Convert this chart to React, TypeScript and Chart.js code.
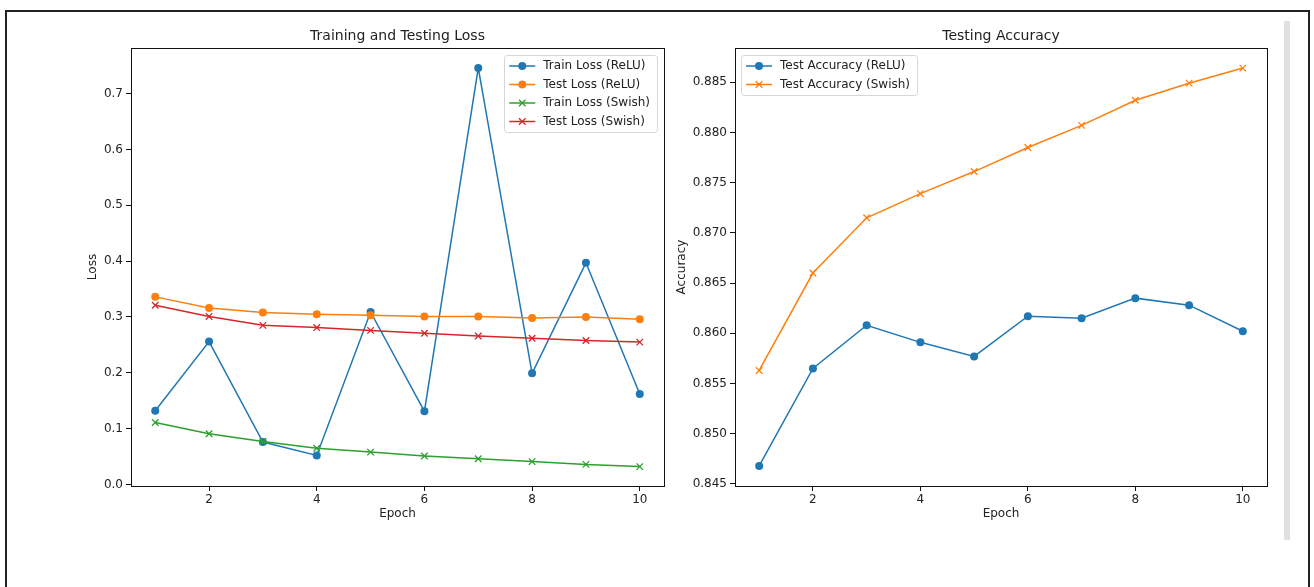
import React, { useEffect, useRef } from "react";
import { Chart, registerables } from "chart.js";

Chart.register(...registerables);

// ---------- data ----------
const epochs = [1, 2, 3, 4, 5, 6, 7, 8, 9, 10];
const trainLossRelu = [0.132, 0.256, 0.076, 0.052, 0.309, 0.131, 0.746, 0.199, 0.397, 0.162];
const testLossRelu = [0.336, 0.316, 0.308, 0.305, 0.303, 0.301, 0.301, 0.298, 0.300, 0.296];
const trainLossSwish = [0.111, 0.091, 0.077, 0.065, 0.058, 0.051, 0.046, 0.041, 0.036, 0.032];
const testLossSwish = [0.321, 0.301, 0.285, 0.281, 0.276, 0.271, 0.266, 0.262, 0.258, 0.255];
const testAccRelu = [0.8468, 0.8565, 0.8608, 0.8591, 0.8577, 0.8617, 0.8615, 0.8635, 0.8628, 0.8602];
const testAccSwish = [0.8563, 0.8660, 0.8715, 0.8739, 0.8761, 0.8785, 0.8807, 0.8832, 0.8849, 0.8864];
const xTicks = [2, 4, 6, 8, 10];
const lossTicks = [0.0, 0.1, 0.2, 0.3, 0.4, 0.5, 0.6, 0.7];
const accTicks = [0.845, 0.85, 0.855, 0.86, 0.865, 0.87, 0.875, 0.88, 0.885];

const lossLabels = ["Train Loss (ReLU)", "Test Loss (ReLU)", "Train Loss (Swish)", "Test Loss (Swish)"];
const accLabels = ["Test Accuracy (ReLU)", "Test Accuracy (Swish)"];

const BLUE = "#1f77b4";
const ORANGE = "#ff7f0e";
const GREEN = "#2ca02c";
const RED = "#d62728";
const TEXT = "#222";
const FAMILY = '"DejaVu Sans", sans-serif';

type Item = { label: string; color: string; marker: "o" | "x" };

function drawMarker(ctx: CanvasRenderingContext2D, kind: "o" | "x", x: number, y: number, color: string) {
  ctx.save();
  if (kind === "o") {
    ctx.fillStyle = color;
    ctx.beginPath();
    ctx.arc(x, y, 4, 0, Math.PI * 2);
    ctx.fill();
  } else {
    ctx.strokeStyle = color;
    ctx.lineWidth = 1.3;
    ctx.beginPath();
    ctx.moveTo(x - 3.3, y - 3.3);
    ctx.lineTo(x + 3.3, y + 3.3);
    ctx.moveTo(x - 3.3, y + 3.3);
    ctx.lineTo(x + 3.3, y - 3.3);
    ctx.stroke();
  }
  ctx.restore();
}

function makeDecor(opts: {
  title: string;
  xTitle: string;
  yTitle: string;
  yTitleOffset: number;
  legend: Item[];
  legendRight: boolean;
}) {
  return {
    id: "decor",
    afterDraw(chart: any) {
      const ctx: CanvasRenderingContext2D = chart.ctx;
      const a = chart.chartArea;
      ctx.save();
      // spines
      ctx.strokeStyle = "#111";
      ctx.lineWidth = 1;
      ctx.strokeRect(Math.round(a.left) + 0.5, Math.round(a.top) + 0.5, Math.round(a.right - a.left), Math.round(a.bottom - a.top));
      // title
      ctx.fillStyle = TEXT;
      ctx.font = `14px ${FAMILY}`;
      ctx.textAlign = "center";
      ctx.textBaseline = "middle";
      ctx.fillText(opts.title, (a.left + a.right) / 2, a.top - 12);
      // x title
      ctx.font = `12px ${FAMILY}`;
      ctx.fillText(opts.xTitle, (a.left + a.right) / 2, a.bottom + 28);
      // y title
      ctx.save();
      ctx.translate(a.left - opts.yTitleOffset, (a.top + a.bottom) / 2);
      ctx.rotate(-Math.PI / 2);
      ctx.fillText(opts.yTitle, 0, 0);
      ctx.restore();
      // legend
      ctx.font = `12px ${FAMILY}`;
      const tw = Math.max(...opts.legend.map((i) => ctx.measureText(i.label).width));
      const w = 39 + tw + 7;
      const h = 11 + (opts.legend.length - 1) * 18.5 + 10;
      const top = a.top + 7;
      const left = opts.legendRight ? a.right - 7 - w : a.left + 6;
      ctx.beginPath();
      (ctx as any).roundRect(Math.round(left) + 0.5, Math.round(top) + 0.5, Math.round(w), Math.round(h), 3);
      ctx.fillStyle = "rgba(255,255,255,0.85)";
      ctx.fill();
      ctx.strokeStyle = "#d6d6d6";
      ctx.lineWidth = 1;
      ctx.stroke();
      opts.legend.forEach((it, i) => {
        const y = top + 11 + i * 18.5;
        ctx.strokeStyle = it.color;
        ctx.lineWidth = 1.5;
        ctx.beginPath();
        ctx.moveTo(left + 5, y);
        ctx.lineTo(left + 31, y);
        ctx.stroke();
        drawMarker(ctx, it.marker, left + 18, y, it.color);
        ctx.fillStyle = TEXT;
        ctx.textAlign = "left";
        ctx.textBaseline = "middle";
        ctx.fillText(it.label, left + 39, y);
      });
      ctx.restore();
    },
  };
}

function pts(arr: number[]) {
  return epochs.map((e, i) => ({ x: e, y: arr[i] }));
}

function ds(label: string, arr: number[], color: string, marker: "o" | "x", order: number) {
  return {
    label,
    data: pts(arr),
    borderColor: color,
    backgroundColor: color,
    borderWidth: 1.5,
    tension: 0,
    pointStyle: marker === "o" ? "circle" : "crossRot",
    pointRadius: marker === "o" ? 4 : 4.6,
    pointBorderWidth: marker === "o" ? 0 : 1.3,
    pointBackgroundColor: color,
    pointBorderColor: color,
    order,
  };
}

function scales(yMin: number, yMax: number, yTicks: number[], yWidth: number, digits: number) {
  const tickFont = { family: FAMILY, size: 12 };
  return {
    x: {
      type: "linear",
      min: 0.55,
      max: 10.45,
      afterBuildTicks: (s: any) => {
        s.ticks = xTicks.map((v) => ({ value: v }));
      },
      afterFit: (s: any) => {
        s.height = 54;
      },
      grid: { drawOnChartArea: false, drawTicks: true, tickLength: 5, color: "#111", tickWidth: 1 },
      border: { display: false },
      ticks: { font: tickFont, color: TEXT, padding: 2, maxRotation: 0, autoSkip: false, callback: (v: any) => String(v) },
    },
    y: {
      type: "linear",
      min: yMin,
      max: yMax,
      afterBuildTicks: (s: any) => {
        s.ticks = yTicks.map((v) => ({ value: v }));
      },
      afterFit: (s: any) => {
        s.width = yWidth;
      },
      grid: { drawOnChartArea: false, drawTicks: true, tickLength: 5, color: "#111", tickWidth: 1 },
      border: { display: false },
      ticks: { font: tickFont, color: TEXT, padding: 3, autoSkip: false, callback: (v: any) => Number(v).toFixed(digits) },
    },
  };
}

function lossConfig(): any {
  return {
    type: "line",
    data: {
      datasets: [
        ds(lossLabels[0], trainLossRelu, BLUE, "o", 4),
        ds(lossLabels[1], testLossRelu, ORANGE, "o", 3),
        ds(lossLabels[2], trainLossSwish, GREEN, "x", 2),
        ds(lossLabels[3], testLossSwish, RED, "x", 1),
      ],
    },
    options: {
      responsive: false,
      animation: false,
      layout: { padding: { top: 28, right: 16, left: 0, bottom: 0 } },
      plugins: { legend: { display: false }, tooltip: { enabled: false }, title: { display: false } },
      scales: scales(-0.0027, 0.7817, lossTicks, 71, 1),
    },
    plugins: [
      makeDecor({
        title: "Training and Testing Loss",
        xTitle: "Epoch",
        yTitle: "Loss",
        yTitleOffset: 38,
        legendRight: true,
        legend: [
          { label: lossLabels[0], color: BLUE, marker: "o" },
          { label: lossLabels[1], color: ORANGE, marker: "o" },
          { label: lossLabels[2], color: GREEN, marker: "x" },
          { label: lossLabels[3], color: RED, marker: "x" },
        ],
      }),
    ],
  };
}

function accConfig(): any {
  return {
    type: "line",
    data: {
      datasets: [
        ds(accLabels[0], testAccRelu, BLUE, "o", 2),
        ds(accLabels[1], testAccSwish, ORANGE, "x", 1),
      ],
    },
    options: {
      responsive: false,
      animation: false,
      layout: { padding: { top: 28, right: 23, left: 0, bottom: 0 } },
      plugins: { legend: { display: false }, tooltip: { enabled: false }, title: { display: false } },
      scales: scales(0.8448, 0.8884, accTicks, 65, 3),
    },
    plugins: [
      makeDecor({
        title: "Testing Accuracy",
        xTitle: "Epoch",
        yTitle: "Accuracy",
        yTitleOffset: 53,
        legendRight: false,
        legend: [
          { label: accLabels[0], color: BLUE, marker: "o" },
          { label: accLabels[1], color: ORANGE, marker: "x" },
        ],
      }),
    ],
  };
}

function ChartCanvas({ make, left, top }: { make: () => any; left: number; top: number }) {
  const ref = useRef<HTMLCanvasElement>(null);
  useEffect(() => {
    const chart = new Chart(ref.current as HTMLCanvasElement, make());
    return () => chart.destroy();
  }, []);
  return (
    <canvas
      ref={ref}
      width={620}
      height={520}
      style={{ position: "absolute", left, top, width: 620, height: 520 }}
    />
  );
}

export default function App() {
  return (
    <div
      style={{
        position: "absolute",
        left: 0,
        top: 0,
        width: 1314,
        height: 587,
        overflow: "hidden",
        background: "#fff",
      }}
    >
      <div
        style={{
          position: "absolute",
          left: 5,
          top: 10,
          width: 1301,
          height: 620,
          border: "2px solid #222",
        }}
      />
      <div style={{ position: "absolute", left: 1284, top: 21, width: 6, height: 519, background: "#e0e0e0" }} />
      <ChartCanvas make={lossConfig} left={60} top={20} />
      <ChartCanvas make={accConfig} left={670} top={20} />
    </div>
  );
}
